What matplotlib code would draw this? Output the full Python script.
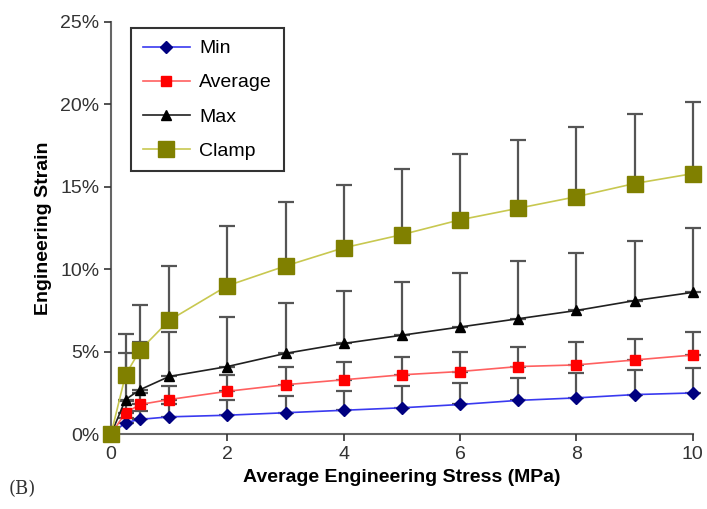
import matplotlib.pyplot as plt
from matplotlib.ticker import FuncFormatter

plt.rcParams['font.family'] = ['Liberation Sans', 'DejaVu Sans']

stress = [0, 0.25, 0.5, 1, 2, 3, 4, 5, 6, 7, 8, 9, 10]

# strain in %, upper error bar tops in %
min_vals = [0, 0.7, 0.9, 1.05, 1.15, 1.3, 1.45, 1.6, 1.8, 2.05, 2.2, 2.4, 2.5]
min_top = [0, 1.0, 1.4, 1.8, 2.1, 2.3, 2.6, 2.9, 3.1, 3.4, 3.7, 3.9, 4.0]
avg_vals = [0, 1.3, 1.8, 2.1, 2.6, 3.0, 3.3, 3.6, 3.8, 4.1, 4.2, 4.5, 4.8]
avg_top = [0, 2.0, 2.5, 2.9, 3.6, 4.1, 4.4, 4.7, 5.0, 5.3, 5.6, 5.8, 6.2]
max_vals = [0, 2.1, 2.7, 3.5, 4.1, 4.9, 5.5, 6.0, 6.5, 7.0, 7.5, 8.1, 8.6]
max_top = [0, 4.9, 5.6, 6.2, 7.1, 7.95, 8.7, 9.2, 9.8, 10.5, 11.0, 11.7, 12.5]
clamp_vals = [0, 3.6, 5.1, 6.9, 9.0, 10.2, 11.3, 12.1, 13.0, 13.7, 14.4, 15.2, 15.8]
clamp_top = [0, 6.1, 7.85, 10.2, 12.6, 14.05, 15.1, 16.1, 17.0, 17.85, 18.6, 19.4, 20.15]

fig = plt.figure(figsize=(7.07, 5.09), dpi=100)
ax = fig.add_axes([0.157, 0.147, 0.823, 0.81])

series = [
    ('Min', min_vals, min_top, 'D', '#000080', '#3a3af0', 6),
    ('Average', avg_vals, avg_top, 's', '#ff0000', '#ff6060', 7),
    ('Max', max_vals, max_top, '^', '#000000', '#202020', 7),
    ('Clamp', clamp_vals, clamp_top, 's', '#808000', '#c8c850', 12),
]

# error bars first so the markers sit on top
for name, vals, top, m, mc, lc, ms in series[::-1]:
    up = [t - v for t, v in zip(top, vals)]
    eb = ax.errorbar(stress, vals, yerr=[[0] * len(vals), up], fmt='none',
                     ecolor='#555555', elinewidth=1.6, capsize=6, capthick=1.6, zorder=2)
    for a in eb.lines[1] + eb.lines[2]:
        a.set_clip_on(False)

for name, vals, top, m, mc, lc, ms in series:
    ax.plot(stress, vals, color=lc, lw=1.2, marker=m, markersize=ms,
            markerfacecolor=mc, markeredgecolor=mc, label=name, zorder=3, clip_on=False)

ax.set_xlim(0, 10)
ax.set_ylim(0, 25)
ax.set_xticks([0, 2, 4, 6, 8, 10])
ax.set_yticks([0, 5, 10, 15, 20, 25])
ax.yaxis.set_major_formatter(FuncFormatter(lambda v, p: '%d%%' % v))
ax.tick_params(labelsize=14, colors='#333333', length=5, width=1.2)
for s in ['top', 'right']:
    ax.spines[s].set_visible(False)
for s in ['left', 'bottom']:
    ax.spines[s].set_color('#666666')
    ax.spines[s].set_linewidth(1.5)
    ax.spines[s].set_zorder(1)

ax.set_xlabel('Average Engineering Stress (MPa)', fontsize=14, fontweight='bold', labelpad=4)
ax.set_ylabel('Engineering Strain', fontsize=14, fontweight='bold', labelpad=6)

leg = ax.legend(loc='upper left', bbox_to_anchor=(0.035, 0.985), borderaxespad=0,
                fontsize=14, fancybox=False, edgecolor='#333333', framealpha=1,
                handlelength=2.4, borderpad=0.6, labelspacing=0.85, handletextpad=0.5)
leg.get_frame().set_linewidth(1.5)

fig.text(0.012, 0.03, '(B)', fontsize=13, family='DejaVu Serif', color='#333333')

fig.savefig('out.png', dpi=100)
